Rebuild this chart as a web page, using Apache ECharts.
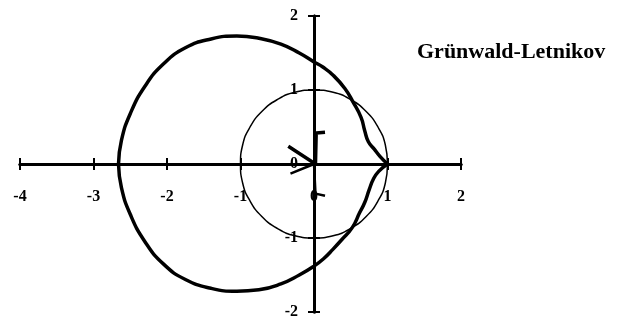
<!DOCTYPE html>
<html>
<head>
<meta charset="utf-8">
<script src="https://cdn.jsdelivr.net/npm/echarts@6/dist/echarts.min.js"></script>
<style>
  html, body { margin: 0; padding: 0; background: #fff; }
  #main { width: 617px; height: 323px; }
</style>
</head>
<body>
<div id="main"></div>
<script>
var myChart = echarts.init(document.getElementById('main'));

// big stability curve, upper half (from the cusp at 1 round to the left)
const bigUpper = [
  [1, 0], [0.9, 0.1], [0.82, 0.2], [0.74, 0.3], [0.69, 0.45], [0.64, 0.63],
  [0.53, 0.84], [0.42, 1.02], [0.26, 1.2], [0.12, 1.31], [0, 1.38],
  [-0.2, 1.5], [-0.45, 1.62], [-0.75, 1.7], [-1.05, 1.73], [-1.4, 1.69],
  [-1.75, 1.57], [-2.05, 1.35], [-2.3, 1.05], [-2.5, 0.68], [-2.62, 0.32], [-2.66, 0]
];
// lower half
const bigLower = [
  [1, 0], [0.88, -0.1], [0.81, -0.2], [0.75, -0.35], [0.69, -0.52], [0.62, -0.66],
  [0.52, -0.86], [0.38, -1.02], [0.26, -1.15], [0.13, -1.28], [0, -1.38],
  [-0.2, -1.5], [-0.45, -1.62], [-0.75, -1.7], [-1.05, -1.72], [-1.4, -1.68],
  [-1.75, -1.56], [-2.05, -1.35], [-2.3, -1.05], [-2.5, -0.68], [-2.62, -0.32], [-2.66, 0]
];
// unit circle
const unitCircle = [
  [1, 0], [0.97, 0.26], [0.87, 0.5], [0.71, 0.71], [0.5, 0.87], [0.26, 0.97],
  [0, 1], [-0.26, 0.97], [-0.5, 0.87], [-0.71, 0.71], [-0.87, 0.5], [-0.97, 0.26],
  [-1, 0], [-0.97, -0.26], [-0.87, -0.5], [-0.71, -0.71], [-0.5, -0.87], [-0.26, -0.97],
  [0, -1], [0.26, -0.97], [0.5, -0.87], [0.71, -0.71], [0.87, -0.5], [0.97, -0.26], [1, 0]
];
// small marks around the origin
const smallUpper = [[0.15, 0.43], [0.03, 0.42], [0.02, 0], [-0.35, 0.24]];
const smallLower = [[-0.32, -0.13], [0, 0], [0.02, -0.4], [0.15, -0.43]];

const xTicks = [-4, -3, -2, -1, 0, 1, 2];
const yTicks = [-2, -1, 0, 1, 2];
const titleText = 'Grünwald-Letnikov';

const font = 'Liberation Serif';
const plotW = 441, plotH = 296;
const plotBox = { left: 20, top: 16, width: plotW, height: plotH, outerBoundsMode: 'none' };
const xMin = xTicks[0], xMax = xTicks[xTicks.length - 1];
const yMin = yTicks[0], yMax = yTicks[yTicks.length - 1];

// grid 0 carries the labels and outward ticks (shifted onto the zero lines),
// grid 1 the inward ticks
function axisX(g, inside) {
  return {
    type: 'value', gridIndex: g, min: xMin, max: xMax, interval: 1,
    offset: inside ? 0 : -plotH * (0 - yMin) / (yMax - yMin),
    axisLine: { onZero: inside, lineStyle: { color: '#000', width: 3 } },
    axisTick: { show: true, inside: inside, length: 6, lineStyle: { color: '#000', width: 2 } },
    axisLabel: { show: !inside, margin: 25, color: '#000', fontFamily: font, fontSize: 16, fontWeight: 'bold' },
    splitLine: { show: false }
  };
}
function axisY(g, inside) {
  return {
    type: 'value', gridIndex: g, min: yMin, max: yMax, interval: 1,
    offset: inside ? 0 : -plotW * (0 - xMin) / (xMax - xMin),
    axisLine: { onZero: inside, lineStyle: { color: '#000', width: 3 } },
    axisTick: { show: true, inside: inside, length: 6, lineStyle: { color: '#000', width: 2 } },
    axisLabel: { show: !inside, margin: 16, color: '#000', fontFamily: font, fontSize: 16, fontWeight: 'bold' },
    splitLine: { show: false }
  };
}

function curve(data, width, smooth) {
  return {
    type: 'line', data: data, smooth: smooth, symbol: 'none', silent: true,
    lineStyle: { color: '#000', width: width }
  };
}

const option = {
  animation: false,
  backgroundColor: '#fff',
  title: {
    text: titleText, left: 412, top: 36,
    textStyle: { fontFamily: font, fontSize: 22, fontWeight: 'bold', color: '#000' }
  },
  grid: [plotBox, plotBox],
  xAxis: [axisX(0, false), axisX(1, true)],
  yAxis: [axisY(0, false), axisY(1, true)],
  series: [
    curve(unitCircle, 1.5, true),
    curve(bigUpper, 3.5, true),
    curve(bigLower, 3.5, true),
    curve(smallUpper, 3.5, false),
    curve(smallLower, 2.5, false)
  ]
};

myChart.setOption(option);
</script>
</body>
</html>
